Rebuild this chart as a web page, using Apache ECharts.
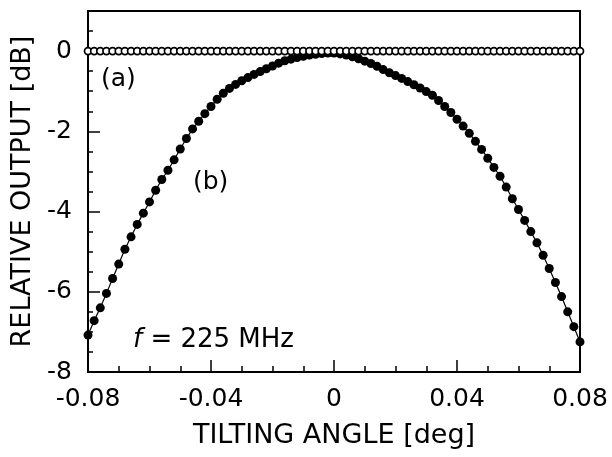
<!DOCTYPE html>
<html>
<head>
<meta charset="utf-8">
<script src="https://cdn.jsdelivr.net/npm/echarts@6/dist/echarts.min.js"></script>
<style>
  html, body { margin: 0; padding: 0; background: #fff; }
  #chart { width: 612px; height: 457px; }
</style>
</head>
<body>
<div id="chart"></div>
<script>
// Tilting angle sampling [deg]
const ANGLE_START = -0.08;
const ANGLE_STEP = 0.002;
const ANGLE_COUNT = 81;

// (a) relative output [dB], open circles
const outputA = [
  0, 0, 0, 0, 0, 0, 0, 0, 0, 0,
  0, 0, 0, 0, 0, 0, 0, 0, 0, 0,
  0, 0, 0, 0, 0, 0, 0, 0, 0, 0,
  0, 0, 0, 0, 0, 0, 0, 0, 0, 0,
  0, 0, 0, 0, 0, 0, 0, 0, 0, 0,
  0, 0, 0, 0, 0, 0, 0, 0, 0, 0,
  0, 0, 0, 0, 0, 0, 0, 0, 0, 0,
  0, 0, 0, 0, 0, 0, 0, 0, 0, 0,
  0
];

// (b) relative output [dB], filled circles
const outputB = [
  -7.08, -6.72, -6.40, -6.04, -5.67, -5.31, -4.94, -4.63, -4.32, -4.04,
  -3.76, -3.47, -3.20, -2.97, -2.71, -2.44, -2.18, -1.94, -1.75, -1.56,
  -1.38, -1.20, -1.05, -0.93, -0.83, -0.74, -0.66, -0.58, -0.51, -0.44,
  -0.37, -0.30, -0.24, -0.20, -0.16, -0.13, -0.10, -0.08, -0.06, -0.05,
  -0.05, -0.07, -0.10, -0.14, -0.19, -0.25, -0.31, -0.38, -0.46, -0.54,
  -0.61, -0.68, -0.76, -0.84, -0.92, -1.01, -1.10, -1.23, -1.38, -1.53,
  -1.70, -1.87, -2.05, -2.25, -2.45, -2.67, -2.90, -3.12, -3.39, -3.68,
  -3.95, -4.22, -4.50, -4.78, -5.09, -5.42, -5.77, -6.12, -6.50, -6.87,
  -7.25
];

// Axis tick labels
const xTickLabels = { '-0.08': '-0.08', '-0.04': '-0.04', '0': '0', '0.04': '0.04', '0.08': '0.08' };
const yTickLabels = { '-8': '-8', '-6': '-6', '-4': '-4', '-2': '-2', '0': '0' };

const angles = [];
for (let i = 0; i < ANGLE_COUNT; i++) {
  angles.push(+(ANGLE_START + i * ANGLE_STEP).toFixed(4));
}
const pairs = (ys) => angles.map((x, i) => [x, ys[i]]);

const FONT = 'DejaVu Sans';
const chart = echarts.init(document.getElementById('chart'), null, { renderer: 'canvas' });

const keyOf = (v) => {
  const r = Math.round(v * 10000) / 10000;
  return String(Object.is(r, -0) ? 0 : r);
};

chart.setOption({
  animation: false,
  backgroundColor: '#fff',
  grid: {
    left: 88, right: 32, top: 11, bottom: 85,
    show: true, borderColor: '#000', borderWidth: 2, backgroundColor: 'transparent'
  },
  xAxis: {
    type: 'value',
    min: -0.08, max: 0.08, interval: 0.04,
    name: 'TILTING ANGLE [deg]',
    nameLocation: 'middle',
    nameGap: 50,
    nameTextStyle: { fontFamily: FONT, fontSize: 27, color: '#000' },
    axisLine: { show: true, onZero: false, lineStyle: { color: '#000', width: 2 } },
    axisTick: { show: true, inside: true, length: 12, lineStyle: { color: '#000', width: 1.5 } },
    minorTick: { show: true, splitNumber: 4, length: 6, lineStyle: { color: '#000', width: 1.5 } },
    splitLine: { show: false },
    minorSplitLine: { show: false },
    axisLabel: {
      margin: 15,
      fontFamily: FONT, fontSize: 25, color: '#000',
      formatter: (v) => xTickLabels[keyOf(v)] || ''
    }
  },
  yAxis: [
    {
      type: 'value',
      min: -8, max: 1, interval: 2,
      name: 'RELATIVE OUTPUT [dB]',
      nameLocation: 'middle',
      nameGap: 42,
      nameTextStyle: { fontFamily: FONT, fontSize: 27, color: '#000' },
      axisLine: { show: true, onZero: false, lineStyle: { color: '#000', width: 2 } },
      axisTick: { show: true, inside: true, length: 12, lineStyle: { color: '#000', width: 1.5 } },
      splitLine: { show: false },
      axisLabel: {
        margin: 16,
        fontFamily: FONT, fontSize: 25, color: '#000',
        formatter: (v) => yTickLabels[keyOf(v)] || ''
      }
    },
    {
      // half-dB minor ticks along the left edge
      type: 'value',
      position: 'left',
      offset: 0,
      min: -8, max: 1, interval: 0.5,
      axisLine: { show: false, onZero: false },
      axisTick: { show: true, inside: true, length: 5, lineStyle: { color: '#000', width: 1.5 } },
      axisLabel: { show: false },
      splitLine: { show: false }
    }
  ],
  series: [
    {
      name: '(b)',
      type: 'line',
      data: pairs(outputB),
      symbol: 'circle',
      symbolSize: 9,
      showAllSymbol: true,
      itemStyle: { color: '#000', opacity: 1 },
      lineStyle: { color: '#000', width: 1.2 },
      z: 2
    },
    {
      name: '(a)',
      type: 'scatter',
      data: pairs(outputA),
      symbol: 'circle',
      symbolSize: 7,
      itemStyle: { color: '#fff', borderColor: '#000', borderWidth: 1.7, opacity: 1 },
      z: 3
    }
  ],
  graphic: [
    {
      type: 'text', left: 101, top: 67,
      style: { text: '(a)', fontFamily: FONT, fontSize: 25, fill: '#000' }
    },
    {
      type: 'text', left: 193, top: 170,
      style: { text: '(b)', fontFamily: FONT, fontSize: 25, fill: '#000' }
    },
    {
      type: 'text', left: 133, top: 327,
      style: {
        text: '{i|f} = 225 MHz',
        fontFamily: FONT, fontSize: 26, fill: '#000',
        rich: { i: { fontFamily: FONT, fontSize: 26, fontStyle: 'italic', fill: '#000' } }
      }
    }
  ]
});
</script>
</body>
</html>
